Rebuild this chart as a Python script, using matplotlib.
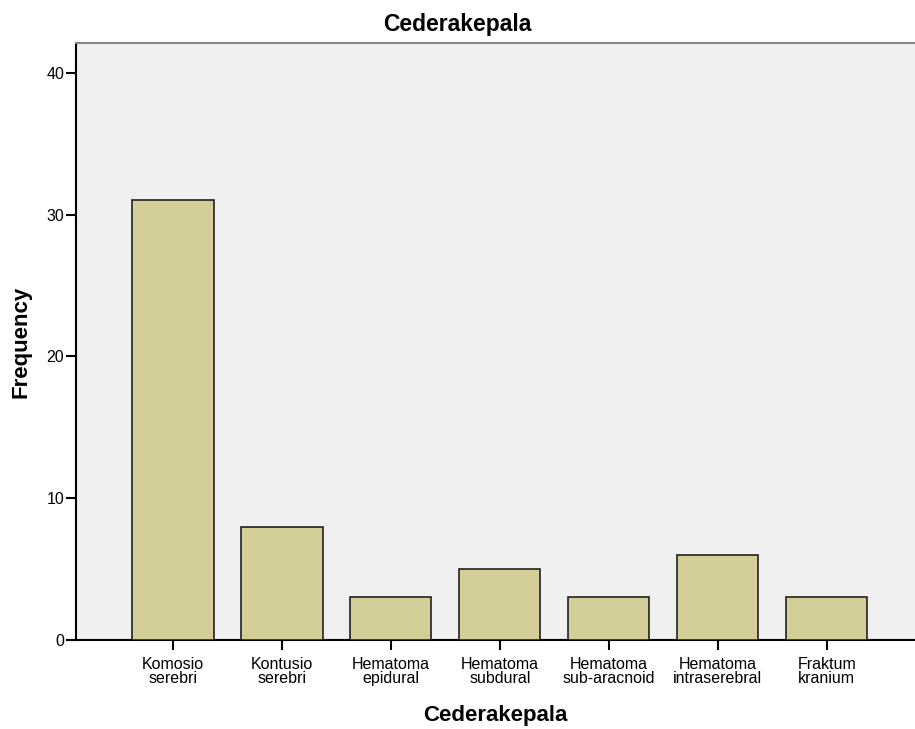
import matplotlib.pyplot as plt
import numpy as np

plt.rcParams['font.family'] = ['Liberation Sans', 'DejaVu Sans']

categories = ['Komosio\nserebri', 'Kontusio\nserebri', 'Hematoma\nepidural',
              'Hematoma\nsubdural', 'Hematoma\nsub-aracnoid', 'Hematoma\nintraserebral',
              'Fraktum\nkranium']
frequency = [31, 8, 3, 5, 3, 6, 3]
yticks = [0, 10, 20, 30, 40]

fig = plt.figure(figsize=(9.15, 7.29), dpi=100)
ax = fig.add_axes([76 / 915, 89 / 729, 1 - 76 / 915, (640 - 43) / 729])
ax.set_facecolor('#F0F0F0')

x = np.arange(len(categories))
ax.bar(x, frequency, width=0.745, color='#D3CE97', edgecolor='#222222', linewidth=1.2, zorder=3)

ax.set_xlim(-0.89, 6.81)
ax.set_ylim(0, 42.1)
ax.set_yticks(yticks)
ax.set_xticks(x)
ax.set_xticklabels(categories, fontsize=11.5, linespacing=0.92)
ax.tick_params(axis='y', labelsize=11.5, length=7.5, width=1.5, direction='out', pad=1)
ax.tick_params(axis='x', length=7.5, width=1.5, direction='out', pad=4.5)

ax.spines['right'].set_visible(False)
ax.spines['left'].set_linewidth(1.5)
ax.spines['bottom'].set_linewidth(1.5)
ax.spines['top'].set_color('#888888')
ax.spines['top'].set_linewidth(1.5)

# title sits centred on the whole figure, not the axes
fig.text(0.5, 1 - 25 / 729, 'Cederakepala', fontsize=16.5, fontweight='bold',
         ha='center', va='center')
ax.set_xlabel('Cederakepala', fontsize=16, fontweight='bold', labelpad=14)
ax.set_ylabel('Frequency', fontsize=16, fontweight='bold', labelpad=11)

fig.savefig('out.png', dpi=100)
